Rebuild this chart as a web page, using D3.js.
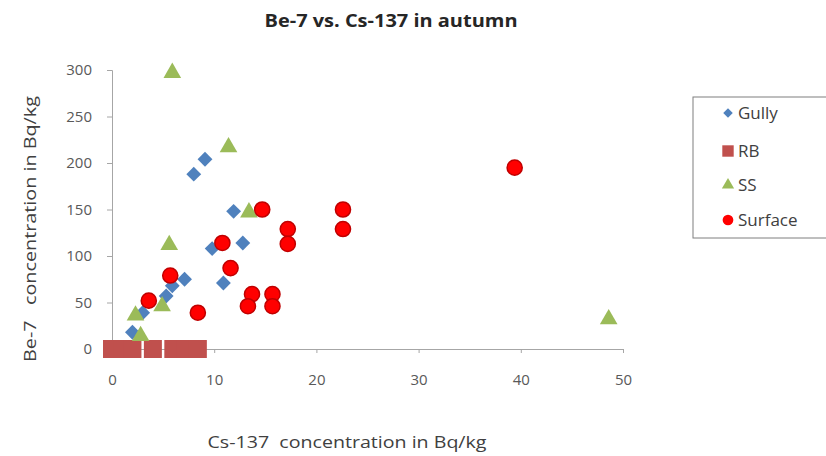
<!DOCTYPE html>
<html>
<head>
<meta charset="utf-8">
<script src="https://cdn.jsdelivr.net/npm/d3@7"></script>
<style>
  body { margin: 0; background: #fff; }
  text { font-family: "Open Sans", "Noto Sans", sans-serif; }
</style>
</head>
<body>
<div id="chart"></div>
<script>
// values: [Cs-137, Be-7]
const gully = [[2.0, 18], [3.0, 39], [5.3, 57], [5.9, 68], [7.1, 75], [8.0, 188],
  [9.1, 204], [11.9, 148], [9.8, 108], [12.8, 114], [10.9, 71]];
const rb = [[0, 0], [1.0, 0], [2.0, 0], [4.0, 0], [6.0, 0], [7.2, 0], [8.4, 0]];
const ss = [[5.9, 297], [11.4, 217], [5.6, 112], [13.4, 147], [4.9, 46], [2.3, 36],
  [2.8, 14], [48.6, 32]];
const surface = [[3.6, 52], [5.7, 79], [8.4, 39], [10.8, 114], [11.6, 87], [14.7, 150],
  [13.7, 59], [13.3, 46], [15.7, 59], [15.7, 46], [17.2, 129], [17.2, 113],
  [22.6, 150], [22.6, 129], [39.4, 195]];

const seriesNames = ["Gully", "RB", "SS", "Surface"];
const xTicks = [0, 10, 20, 30, 40, 50];
const yTicks = [0, 50, 100, 150, 200, 250, 300];

const W = 826, H = 456;
const svg = d3.select("#chart").append("svg")
  .attr("width", W).attr("height", H);

const x = d3.scaleLinear().domain([0, 50]).range([112, 623]);
const y = d3.scaleLinear().domain([0, 300]).range([349, 70]);

// axes
const xAxis = svg.append("g")
  .attr("transform", `translate(0, ${y(0)})`)
  .call(d3.axisBottom(x).tickValues(xTicks).tickSize(4).tickPadding(21));
const yAxis = svg.append("g")
  .attr("transform", `translate(${x(0)}, 0)`)
  .call(d3.axisLeft(y).tickValues(yTicks).tickSize(5).tickPadding(15));

[xAxis, yAxis].forEach(g => {
  g.select(".domain").attr("stroke", "#a6a6a6");
  g.selectAll(".tick line").attr("stroke", "#a6a6a6");
  g.selectAll(".tick text").attr("fill", "#595959")
    .style("font-size", "15px");
});

const styles = {
  Gully:   { type: "diamond",  fill: "#4f81bd", stroke: "none", size: 110 },
  RB:      { type: "square",   fill: "#c0504d", stroke: "none", size: 324 },
  SS:      { type: "triangle", fill: "#9bbb59", stroke: "none", size: 135 },
  Surface: { type: "circle",   fill: "#ff0000", stroke: "#c00000", size: 180 }
};

function symbolPath(type, size) {
  if (type === "triangle") return d3.symbol().type(d3.symbolTriangle).size(size)();
  if (type === "circle") return d3.symbol().type(d3.symbolCircle).size(size)();
  // diamond is a square turned 45 degrees
  return d3.symbol().type(d3.symbolSquare).size(size)();
}

const allData = { Gully: gully, RB: rb, SS: ss, Surface: surface };

seriesNames.forEach(name => {
  const st = styles[name];
  svg.append("g").selectAll("path")
    .data(allData[name])
    .enter().append("path")
    .attr("d", symbolPath(st.type, st.size))
    .attr("transform", d => `translate(${x(d[0])}, ${y(d[1])})` + (st.type === "diamond" ? " rotate(45)" : ""))
    .attr("fill", st.fill)
    .attr("stroke", st.stroke)
    .attr("stroke-width", 1.5);
});

// title and axis labels
svg.append("text")
  .attr("x", 391).attr("y", 27)
  .attr("text-anchor", "middle")
  .style("font-size", "17px").style("font-weight", "bold")
  .attr("fill", "#262626")
  .attr("textLength", 253).attr("lengthAdjust", "spacingAndGlyphs")
  .text("Be-7 vs. Cs-137 in autumn");

svg.append("text")
  .attr("x", 347).attr("y", 448)
  .attr("text-anchor", "middle")
  .style("font-size", "17px")
  .attr("fill", "#404040")
  .attr("xml:space", "preserve")
  .attr("textLength", 279).attr("lengthAdjust", "spacingAndGlyphs")
  .text("Cs-137  concentration in Bq/kg");

svg.append("text")
  .attr("transform", "translate(36, 229) rotate(-90)")
  .attr("text-anchor", "middle")
  .style("font-size", "17px")
  .attr("fill", "#404040")
  .attr("xml:space", "preserve")
  .attr("textLength", 266).attr("lengthAdjust", "spacingAndGlyphs")
  .text("Be-7   concentration in Bq/kg");

// legend
const legend = svg.append("g");
legend.append("rect")
  .attr("x", 693).attr("y", 97)
  .attr("width", 140).attr("height", 141)
  .attr("fill", "#fff").attr("stroke", "#7f7f7f");

const legendY = [113, 151, 185, 220];
const legendSizes = { diamond: 45, square: 130, triangle: 65, circle: 90 };
seriesNames.forEach((name, i) => {
  const st = styles[name];
  legend.append("path")
    .attr("d", symbolPath(st.type, legendSizes[st.type]))
    .attr("transform", `translate(728, ${legendY[i]})` + (st.type === "diamond" ? " rotate(45)" : ""))
    .attr("fill", st.fill);
  legend.append("text")
    .attr("x", 738).attr("y", legendY[i] + 6)
    .style("font-size", "17px")
    .attr("fill", "#404040")
    .text(name);
});
</script>
</body>
</html>
